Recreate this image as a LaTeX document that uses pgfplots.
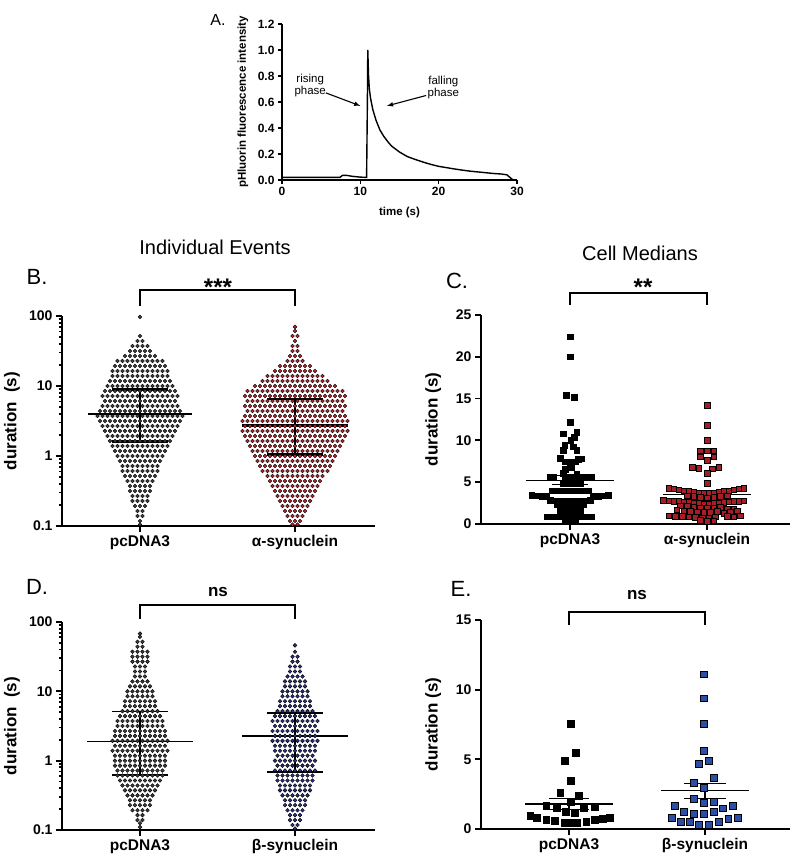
\documentclass[border=0pt]{standalone}
\usepackage{pgfplots}
\pgfplotsset{compat=1.18}
\usepackage{pgfplotstable}
\usepackage{fontspec}
\setmainfont{Liberation Sans}
\pgfplotsset{/pgf/number format/assume math mode=true}
\definecolor{bgray}{HTML}{3C3C3C}
\definecolor{bred}{HTML}{B5232B}
\definecolor{cred}{HTML}{A51D25}
\definecolor{dnavy}{HTML}{2C307E}
\definecolor{eblue}{HTML}{2D4EA6}

% ---------- Panel B, pcDNA3 (d = half-spacing offset) ----------
\pgfplotstableread[row sep=\\]{
d y\\
0 0.105\\
0 0.118\\
-1 0.139\\1 0.139\\
-1 0.164\\1 0.164\\
-2 0.193\\0 0.193\\2 0.193\\
-3 0.228\\-1 0.228\\1 0.228\\3 0.228\\
-3 0.268\\-1 0.268\\1 0.268\\3 0.268\\
-4 0.316\\-2 0.316\\0 0.316\\2 0.316\\4 0.316\\
-4 0.373\\-2 0.373\\0 0.373\\2 0.373\\4 0.373\\
-5 0.439\\-3 0.439\\-1 0.439\\1 0.439\\3 0.439\\5 0.439\\
-6 0.518\\-4 0.518\\-2 0.518\\0 0.518\\2 0.518\\4 0.518\\6 0.518\\
-7 0.611\\-5 0.611\\-3 0.611\\-1 0.611\\1 0.611\\3 0.611\\5 0.611\\7 0.611\\
-7 0.72\\-5 0.72\\-3 0.72\\-1 0.72\\1 0.72\\3 0.72\\5 0.72\\7 0.72\\
-8 0.848\\-6 0.848\\-4 0.848\\-2 0.848\\0 0.848\\2 0.848\\4 0.848\\6 0.848\\8 0.848\\
-9 1\\-7 1\\-5 1\\-3 1\\-1 1\\1 1\\3 1\\5 1\\7 1\\9 1\\
-10 1.18\\-8 1.18\\-6 1.18\\-4 1.18\\-2 1.18\\0 1.18\\2 1.18\\4 1.18\\6 1.18\\8 1.18\\10 1.18\\
-11 1.39\\-9 1.39\\-7 1.39\\-5 1.39\\-3 1.39\\-1 1.39\\1 1.39\\3 1.39\\5 1.39\\7 1.39\\9 1.39\\11 1.39\\
-12 1.64\\-10 1.64\\-8 1.64\\-6 1.64\\-4 1.64\\-2 1.64\\0 1.64\\2 1.64\\4 1.64\\6 1.64\\8 1.64\\10 1.64\\12 1.64\\
-13 1.93\\-11 1.93\\-9 1.93\\-7 1.93\\-5 1.93\\-3 1.93\\-1 1.93\\1 1.93\\3 1.93\\5 1.93\\7 1.93\\9 1.93\\11 1.93\\13 1.93\\
-14 2.28\\-12 2.28\\-10 2.28\\-8 2.28\\-6 2.28\\-4 2.28\\-2 2.28\\0 2.28\\2 2.28\\4 2.28\\6 2.28\\8 2.28\\10 2.28\\12 2.28\\14 2.28\\
-15 2.68\\-13 2.68\\-11 2.68\\-9 2.68\\-7 2.68\\-5 2.68\\-3 2.68\\-1 2.68\\1 2.68\\3 2.68\\5 2.68\\7 2.68\\9 2.68\\11 2.68\\13 2.68\\15 2.68\\
-16 3.16\\-14 3.16\\-12 3.16\\-10 3.16\\-8 3.16\\-6 3.16\\-4 3.16\\-2 3.16\\0 3.16\\2 3.16\\4 3.16\\6 3.16\\8 3.16\\10 3.16\\12 3.16\\14 3.16\\16 3.16\\
-17 3.73\\-15 3.73\\-13 3.73\\-11 3.73\\-9 3.73\\-7 3.73\\-5 3.73\\-3 3.73\\-1 3.73\\1 3.73\\3 3.73\\5 3.73\\7 3.73\\9 3.73\\11 3.73\\13 3.73\\15 3.73\\17 3.73\\
-16 4.39\\-14 4.39\\-12 4.39\\-10 4.39\\-8 4.39\\-6 4.39\\-4 4.39\\-2 4.39\\0 4.39\\2 4.39\\4 4.39\\6 4.39\\8 4.39\\10 4.39\\12 4.39\\14 4.39\\16 4.39\\
-15 5.18\\-13 5.18\\-11 5.18\\-9 5.18\\-7 5.18\\-5 5.18\\-3 5.18\\-1 5.18\\1 5.18\\3 5.18\\5 5.18\\7 5.18\\9 5.18\\11 5.18\\13 5.18\\15 5.18\\
-14 6.11\\-12 6.11\\-10 6.11\\-8 6.11\\-6 6.11\\-4 6.11\\-2 6.11\\0 6.11\\2 6.11\\4 6.11\\6 6.11\\8 6.11\\10 6.11\\12 6.11\\14 6.11\\
-15 7.2\\-13 7.2\\-11 7.2\\-9 7.2\\-7 7.2\\-5 7.2\\-3 7.2\\-1 7.2\\1 7.2\\3 7.2\\5 7.2\\7 7.2\\9 7.2\\11 7.2\\13 7.2\\15 7.2\\
-14 8.48\\-12 8.48\\-10 8.48\\-8 8.48\\-6 8.48\\-4 8.48\\-2 8.48\\0 8.48\\2 8.48\\4 8.48\\6 8.48\\8 8.48\\10 8.48\\12 8.48\\14 8.48\\
-13 10\\-11 10\\-9 10\\-7 10\\-5 10\\-3 10\\-1 10\\1 10\\3 10\\5 10\\7 10\\9 10\\11 10\\13 10\\
-12 11.8\\-10 11.8\\-8 11.8\\-6 11.8\\-4 11.8\\-2 11.8\\0 11.8\\2 11.8\\4 11.8\\6 11.8\\8 11.8\\10 11.8\\12 11.8\\
-11 13.9\\-9 13.9\\-7 13.9\\-5 13.9\\-3 13.9\\-1 13.9\\1 13.9\\3 13.9\\5 13.9\\7 13.9\\9 13.9\\11 13.9\\
-11 16.4\\-9 16.4\\-7 16.4\\-5 16.4\\-3 16.4\\-1 16.4\\1 16.4\\3 16.4\\5 16.4\\7 16.4\\9 16.4\\11 16.4\\
-10 19.3\\-8 19.3\\-6 19.3\\-4 19.3\\-2 19.3\\0 19.3\\2 19.3\\4 19.3\\6 19.3\\8 19.3\\10 19.3\\
-9 22.8\\-7 22.8\\-5 22.8\\-3 22.8\\-1 22.8\\1 22.8\\3 22.8\\5 22.8\\7 22.8\\9 22.8\\
-6 26.8\\-4 26.8\\-2 26.8\\0 26.8\\2 26.8\\4 26.8\\6 26.8\\
-4 31.6\\-2 31.6\\0 31.6\\2 31.6\\4 31.6\\
-3 37.3\\-1 37.3\\1 37.3\\3 37.3\\
-1 43.9\\1 43.9\\
0 51.8\\
0 97\\
}\Bpc

% ---------- Panel B, alpha-synuclein ----------
\pgfplotstableread[row sep=\\]{
d y\\
-1 0.105\\1 0.105\\
-2 0.118\\0 0.118\\2 0.118\\
-3 0.139\\-1 0.139\\1 0.139\\3 0.139\\
-4 0.164\\-2 0.164\\0 0.164\\2 0.164\\4 0.164\\
-5 0.193\\-3 0.193\\-1 0.193\\1 0.193\\3 0.193\\5 0.193\\
-6 0.228\\-4 0.228\\-2 0.228\\0 0.228\\2 0.228\\4 0.228\\6 0.228\\
-7 0.268\\-5 0.268\\-3 0.268\\-1 0.268\\1 0.268\\3 0.268\\5 0.268\\7 0.268\\
-8 0.316\\-6 0.316\\-4 0.316\\-2 0.316\\0 0.316\\2 0.316\\4 0.316\\6 0.316\\8 0.316\\
-9 0.373\\-7 0.373\\-5 0.373\\-3 0.373\\-1 0.373\\1 0.373\\3 0.373\\5 0.373\\7 0.373\\9 0.373\\
-10 0.439\\-8 0.439\\-6 0.439\\-4 0.439\\-2 0.439\\0 0.439\\2 0.439\\4 0.439\\6 0.439\\8 0.439\\10 0.439\\
-11 0.518\\-9 0.518\\-7 0.518\\-5 0.518\\-3 0.518\\-1 0.518\\1 0.518\\3 0.518\\5 0.518\\7 0.518\\9 0.518\\11 0.518\\
-13 0.611\\-11 0.611\\-9 0.611\\-7 0.611\\-5 0.611\\-3 0.611\\-1 0.611\\1 0.611\\3 0.611\\5 0.611\\7 0.611\\9 0.611\\11 0.611\\13 0.611\\
-14 0.72\\-12 0.72\\-10 0.72\\-8 0.72\\-6 0.72\\-4 0.72\\-2 0.72\\0 0.72\\2 0.72\\4 0.72\\6 0.72\\8 0.72\\10 0.72\\12 0.72\\14 0.72\\
-15 0.848\\-13 0.848\\-11 0.848\\-9 0.848\\-7 0.848\\-5 0.848\\-3 0.848\\-1 0.848\\1 0.848\\3 0.848\\5 0.848\\7 0.848\\9 0.848\\11 0.848\\13 0.848\\15 0.848\\
-16 1\\-14 1\\-12 1\\-10 1\\-8 1\\-6 1\\-4 1\\-2 1\\0 1\\2 1\\4 1\\6 1\\8 1\\10 1\\12 1\\14 1\\16 1\\
-17 1.18\\-15 1.18\\-13 1.18\\-11 1.18\\-9 1.18\\-7 1.18\\-5 1.18\\-3 1.18\\-1 1.18\\1 1.18\\3 1.18\\5 1.18\\7 1.18\\9 1.18\\11 1.18\\13 1.18\\15 1.18\\17 1.18\\
-18 1.39\\-16 1.39\\-14 1.39\\-12 1.39\\-10 1.39\\-8 1.39\\-6 1.39\\-4 1.39\\-2 1.39\\0 1.39\\2 1.39\\4 1.39\\6 1.39\\8 1.39\\10 1.39\\12 1.39\\14 1.39\\16 1.39\\18 1.39\\
-19 1.64\\-17 1.64\\-15 1.64\\-13 1.64\\-11 1.64\\-9 1.64\\-7 1.64\\-5 1.64\\-3 1.64\\-1 1.64\\1 1.64\\3 1.64\\5 1.64\\7 1.64\\9 1.64\\11 1.64\\13 1.64\\15 1.64\\17 1.64\\19 1.64\\
-20 1.93\\-18 1.93\\-16 1.93\\-14 1.93\\-12 1.93\\-10 1.93\\-8 1.93\\-6 1.93\\-4 1.93\\-2 1.93\\0 1.93\\2 1.93\\4 1.93\\6 1.93\\8 1.93\\10 1.93\\12 1.93\\14 1.93\\16 1.93\\18 1.93\\20 1.93\\
-21 2.28\\-19 2.28\\-17 2.28\\-15 2.28\\-13 2.28\\-11 2.28\\-9 2.28\\-7 2.28\\-5 2.28\\-3 2.28\\-1 2.28\\1 2.28\\3 2.28\\5 2.28\\7 2.28\\9 2.28\\11 2.28\\13 2.28\\15 2.28\\17 2.28\\19 2.28\\21 2.28\\
-20 2.68\\-18 2.68\\-16 2.68\\-14 2.68\\-12 2.68\\-10 2.68\\-8 2.68\\-6 2.68\\-4 2.68\\-2 2.68\\0 2.68\\2 2.68\\4 2.68\\6 2.68\\8 2.68\\10 2.68\\12 2.68\\14 2.68\\16 2.68\\18 2.68\\20 2.68\\
-21 3.16\\-19 3.16\\-17 3.16\\-15 3.16\\-13 3.16\\-11 3.16\\-9 3.16\\-7 3.16\\-5 3.16\\-3 3.16\\-1 3.16\\1 3.16\\3 3.16\\5 3.16\\7 3.16\\9 3.16\\11 3.16\\13 3.16\\15 3.16\\17 3.16\\19 3.16\\21 3.16\\
-20 3.73\\-18 3.73\\-16 3.73\\-14 3.73\\-12 3.73\\-10 3.73\\-8 3.73\\-6 3.73\\-4 3.73\\-2 3.73\\0 3.73\\2 3.73\\4 3.73\\6 3.73\\8 3.73\\10 3.73\\12 3.73\\14 3.73\\16 3.73\\18 3.73\\20 3.73\\
-19 4.39\\-17 4.39\\-15 4.39\\-13 4.39\\-11 4.39\\-9 4.39\\-7 4.39\\-5 4.39\\-3 4.39\\-1 4.39\\1 4.39\\3 4.39\\5 4.39\\7 4.39\\9 4.39\\11 4.39\\13 4.39\\15 4.39\\17 4.39\\19 4.39\\
-20 5.18\\-18 5.18\\-16 5.18\\-14 5.18\\-12 5.18\\-10 5.18\\-8 5.18\\-6 5.18\\-4 5.18\\-2 5.18\\0 5.18\\2 5.18\\4 5.18\\6 5.18\\8 5.18\\10 5.18\\12 5.18\\14 5.18\\16 5.18\\18 5.18\\20 5.18\\
-19 6.11\\-17 6.11\\-15 6.11\\-13 6.11\\-11 6.11\\-9 6.11\\-7 6.11\\-5 6.11\\-3 6.11\\-1 6.11\\1 6.11\\3 6.11\\5 6.11\\7 6.11\\9 6.11\\11 6.11\\13 6.11\\15 6.11\\17 6.11\\19 6.11\\
-20 7.2\\-18 7.2\\-16 7.2\\-14 7.2\\-12 7.2\\-10 7.2\\-8 7.2\\-6 7.2\\-4 7.2\\-2 7.2\\0 7.2\\2 7.2\\4 7.2\\6 7.2\\8 7.2\\10 7.2\\12 7.2\\14 7.2\\16 7.2\\18 7.2\\20 7.2\\
-19 8.48\\-17 8.48\\-15 8.48\\-13 8.48\\-11 8.48\\-9 8.48\\-7 8.48\\-5 8.48\\-3 8.48\\-1 8.48\\1 8.48\\3 8.48\\5 8.48\\7 8.48\\9 8.48\\11 8.48\\13 8.48\\15 8.48\\17 8.48\\19 8.48\\
-16 10\\-14 10\\-12 10\\-10 10\\-8 10\\-6 10\\-4 10\\-2 10\\0 10\\2 10\\4 10\\6 10\\8 10\\10 10\\12 10\\14 10\\16 10\\
-13 11.8\\-11 11.8\\-9 11.8\\-7 11.8\\-5 11.8\\-3 11.8\\-1 11.8\\1 11.8\\3 11.8\\5 11.8\\7 11.8\\9 11.8\\11 11.8\\13 11.8\\
-11 13.9\\-9 13.9\\-7 13.9\\-5 13.9\\-3 13.9\\-1 13.9\\1 13.9\\3 13.9\\5 13.9\\7 13.9\\9 13.9\\11 13.9\\
-8 16.4\\-6 16.4\\-4 16.4\\-2 16.4\\0 16.4\\2 16.4\\4 16.4\\6 16.4\\8 16.4\\
-6 19.3\\-4 19.3\\-2 19.3\\0 19.3\\2 19.3\\4 19.3\\6 19.3\\
-3 22.8\\-1 22.8\\1 22.8\\3 22.8\\
-2 26.8\\0 26.8\\2 26.8\\
-1 31.6\\1 31.6\\
-1 37.3\\1 37.3\\
0 43.9\\
-1 51.8\\1 51.8\\
0 61.1\\
0 70\\
}\Bas

% ---------- Panel D, pcDNA3 ----------
\pgfplotstableread[row sep=\\]{
d y\\
0 0.11\\
0 0.125\\
-1 0.139\\1 0.139\\
-1 0.164\\1 0.164\\
-3 0.193\\-1 0.193\\1 0.193\\3 0.193\\
-4 0.228\\-2 0.228\\0 0.228\\2 0.228\\4 0.228\\
-4 0.268\\-2 0.268\\0 0.268\\2 0.268\\4 0.268\\
-5 0.316\\-3 0.316\\-1 0.316\\1 0.316\\3 0.316\\5 0.316\\
-6 0.373\\-4 0.373\\-2 0.373\\0 0.373\\2 0.373\\4 0.373\\6 0.373\\
-7 0.439\\-5 0.439\\-3 0.439\\-1 0.439\\1 0.439\\3 0.439\\5 0.439\\7 0.439\\
-8 0.518\\-6 0.518\\-4 0.518\\-2 0.518\\0 0.518\\2 0.518\\4 0.518\\6 0.518\\8 0.518\\
-9 0.611\\-7 0.611\\-5 0.611\\-3 0.611\\-1 0.611\\1 0.611\\3 0.611\\5 0.611\\7 0.611\\9 0.611\\
-9 0.72\\-7 0.72\\-5 0.72\\-3 0.72\\-1 0.72\\1 0.72\\3 0.72\\5 0.72\\7 0.72\\9 0.72\\
-10 0.848\\-8 0.848\\-6 0.848\\-4 0.848\\-2 0.848\\0 0.848\\2 0.848\\4 0.848\\6 0.848\\8 0.848\\10 0.848\\
-10 1\\-8 1\\-6 1\\-4 1\\-2 1\\0 1\\2 1\\4 1\\6 1\\8 1\\10 1\\
-10 1.18\\-8 1.18\\-6 1.18\\-4 1.18\\-2 1.18\\0 1.18\\2 1.18\\4 1.18\\6 1.18\\8 1.18\\10 1.18\\
-11 1.39\\-9 1.39\\-7 1.39\\-5 1.39\\-3 1.39\\-1 1.39\\1 1.39\\3 1.39\\5 1.39\\7 1.39\\9 1.39\\11 1.39\\
-10 1.64\\-8 1.64\\-6 1.64\\-4 1.64\\-2 1.64\\0 1.64\\2 1.64\\4 1.64\\6 1.64\\8 1.64\\10 1.64\\
-11 1.93\\-9 1.93\\-7 1.93\\-5 1.93\\-3 1.93\\-1 1.93\\1 1.93\\3 1.93\\5 1.93\\7 1.93\\9 1.93\\11 1.93\\
-10 2.28\\-8 2.28\\-6 2.28\\-4 2.28\\-2 2.28\\0 2.28\\2 2.28\\4 2.28\\6 2.28\\8 2.28\\10 2.28\\
-10 2.68\\-8 2.68\\-6 2.68\\-4 2.68\\-2 2.68\\0 2.68\\2 2.68\\4 2.68\\6 2.68\\8 2.68\\10 2.68\\
-9 3.16\\-7 3.16\\-5 3.16\\-3 3.16\\-1 3.16\\1 3.16\\3 3.16\\5 3.16\\7 3.16\\9 3.16\\
-9 3.73\\-7 3.73\\-5 3.73\\-3 3.73\\-1 3.73\\1 3.73\\3 3.73\\5 3.73\\7 3.73\\9 3.73\\
-8 4.39\\-6 4.39\\-4 4.39\\-2 4.39\\0 4.39\\2 4.39\\4 4.39\\6 4.39\\8 4.39\\
-7 5.18\\-5 5.18\\-3 5.18\\-1 5.18\\1 5.18\\3 5.18\\5 5.18\\7 5.18\\
-6 6.11\\-4 6.11\\-2 6.11\\0 6.11\\2 6.11\\4 6.11\\6 6.11\\
-6 7.2\\-4 7.2\\-2 7.2\\0 7.2\\2 7.2\\4 7.2\\6 7.2\\
-5 8.48\\-3 8.48\\-1 8.48\\1 8.48\\3 8.48\\5 8.48\\
-5 10\\-3 10\\-1 10\\1 10\\3 10\\5 10\\
-4 11.8\\-2 11.8\\0 11.8\\2 11.8\\4 11.8\\
-3 13.9\\-1 13.9\\1 13.9\\3 13.9\\
-2 16.4\\0 16.4\\2 16.4\\
-2 19.3\\0 19.3\\2 19.3\\
-2 22.8\\0 22.8\\2 22.8\\
-3 26.8\\-1 26.8\\1 26.8\\3 26.8\\
-3 31.6\\-1 31.6\\1 31.6\\3 31.6\\
-3 37.3\\-1 37.3\\1 37.3\\3 37.3\\
-1 43.9\\1 43.9\\
-1 51.8\\1 51.8\\
0 61.1\\
0 68\\
}\Dpc

% ---------- Panel D, beta-synuclein ----------
\pgfplotstableread[row sep=\\]{
d y\\
0 0.105\\
-1 0.118\\1 0.118\\
-2 0.139\\0 0.139\\2 0.139\\
-2 0.164\\0 0.164\\2 0.164\\
-3 0.193\\-1 0.193\\1 0.193\\3 0.193\\
-4 0.228\\-2 0.228\\0 0.228\\2 0.228\\4 0.228\\
-4 0.268\\-2 0.268\\0 0.268\\2 0.268\\4 0.268\\
-5 0.316\\-3 0.316\\-1 0.316\\1 0.316\\3 0.316\\5 0.316\\
-6 0.373\\-4 0.373\\-2 0.373\\0 0.373\\2 0.373\\4 0.373\\6 0.373\\
-6 0.439\\-4 0.439\\-2 0.439\\0 0.439\\2 0.439\\4 0.439\\6 0.439\\
-7 0.518\\-5 0.518\\-3 0.518\\-1 0.518\\1 0.518\\3 0.518\\5 0.518\\7 0.518\\
-7 0.611\\-5 0.611\\-3 0.611\\-1 0.611\\1 0.611\\3 0.611\\5 0.611\\7 0.611\\
-8 0.72\\-6 0.72\\-4 0.72\\-2 0.72\\0 0.72\\2 0.72\\4 0.72\\6 0.72\\8 0.72\\
-7 0.848\\-5 0.848\\-3 0.848\\-1 0.848\\1 0.848\\3 0.848\\5 0.848\\7 0.848\\
-8 1\\-6 1\\-4 1\\-2 1\\0 1\\2 1\\4 1\\6 1\\8 1\\
-7 1.18\\-5 1.18\\-3 1.18\\-1 1.18\\1 1.18\\3 1.18\\5 1.18\\7 1.18\\
-8 1.39\\-6 1.39\\-4 1.39\\-2 1.39\\0 1.39\\2 1.39\\4 1.39\\6 1.39\\8 1.39\\
-8 1.64\\-6 1.64\\-4 1.64\\-2 1.64\\0 1.64\\2 1.64\\4 1.64\\6 1.64\\8 1.64\\
-9 1.93\\-7 1.93\\-5 1.93\\-3 1.93\\-1 1.93\\1 1.93\\3 1.93\\5 1.93\\7 1.93\\9 1.93\\
-8 2.28\\-6 2.28\\-4 2.28\\-2 2.28\\0 2.28\\2 2.28\\4 2.28\\6 2.28\\8 2.28\\
-9 2.68\\-7 2.68\\-5 2.68\\-3 2.68\\-1 2.68\\1 2.68\\3 2.68\\5 2.68\\7 2.68\\9 2.68\\
-8 3.16\\-6 3.16\\-4 3.16\\-2 3.16\\0 3.16\\2 3.16\\4 3.16\\6 3.16\\8 3.16\\
-9 3.73\\-7 3.73\\-5 3.73\\-3 3.73\\-1 3.73\\1 3.73\\3 3.73\\5 3.73\\7 3.73\\9 3.73\\
-8 4.39\\-6 4.39\\-4 4.39\\-2 4.39\\0 4.39\\2 4.39\\4 4.39\\6 4.39\\8 4.39\\
-7 5.18\\-5 5.18\\-3 5.18\\-1 5.18\\1 5.18\\3 5.18\\5 5.18\\7 5.18\\
-6 6.11\\-4 6.11\\-2 6.11\\0 6.11\\2 6.11\\4 6.11\\6 6.11\\
-6 7.2\\-4 7.2\\-2 7.2\\0 7.2\\2 7.2\\4 7.2\\6 7.2\\
-5 8.48\\-3 8.48\\-1 8.48\\1 8.48\\3 8.48\\5 8.48\\
-5 10\\-3 10\\-1 10\\1 10\\3 10\\5 10\\
-4 11.8\\-2 11.8\\0 11.8\\2 11.8\\4 11.8\\
-4 13.9\\-2 13.9\\0 13.9\\2 13.9\\4 13.9\\
-3 16.4\\-1 16.4\\1 16.4\\3 16.4\\
-2 19.3\\0 19.3\\2 19.3\\
-2 22.8\\0 22.8\\2 22.8\\
-1 26.8\\1 26.8\\
-1 31.6\\1 31.6\\
0 37.3\\
0 46\\
}\Dbs

% ---------- Panel C ----------
\pgfplotstableread[row sep=\\]{
d y\\
0 22.4\\0 20.0\\-0.03 15.4\\0.03 15.2\\0 12.2\\
-0.05 10.8\\0.05 11.0\\0.03 10.4\\0.005 10.0\\
-0.04 9.45\\0.025 9.25\\-0.05 8.85\\0.05 8.85\\
-0.07 7.85\\0.06 7.73\\0.085 7.8\\-0.037 7.45\\0 7.4\\0.037 7.45\\
-0.037 6.54\\0.012 6.78\\-0.049 6.06\\0.049 5.98\\
-0.146 5.6\\-0.122 5.6\\-0.037 5.66\\0.012 5.66\\0.061 5.66\\0.085 5.6\\0.122 5.6\\0.158 5.6\\
-0.049 4.86\\-0.012 4.86\\0.037 4.86\\0.073 4.8\\
-0.134 4.0\\-0.09 4.0\\-0.045 4.0\\0 4.0\\0.045 4.0\\0.09 4.0\\0.134 4.0\\
-0.28 3.47\\-0.244 3.4\\-0.207 3.35\\-0.17 3.3\\0.171 3.3\\0.207 3.35\\0.244 3.4\\0.28 3.47\\
-0.146 2.85\\-0.11 2.8\\-0.073 2.8\\-0.037 2.8\\0 2.8\\0.037 2.8\\0.073 2.8\\0.11 2.8\\0.146 2.85\\
-0.098 2.3\\-0.049 2.27\\0 2.27\\0.049 2.27\\0.098 2.3\\
-0.073 1.67\\-0.024 1.65\\0.024 1.65\\0.073 1.67\\
-0.049 1.1\\0 1.08\\0.049 1.1\\
-0.171 0.87\\-0.134 0.87\\-0.098 0.87\\-0.061 0.87\\-0.024 0.8\\0.012 0.8\\0.049 0.87\\0.085 0.87\\0.122 0.87\\0.159 0.87\\
-0.037 0.35\\0 0.3\\0.037 0.35\\
}\Cpc

\pgfplotstableread[row sep=\\]{
d y\\
0 14.2\\0 11.8\\0 10.0\\
-0.049 8.77\\0 8.77\\0.049 8.77\\-0.049 8.05\\0.049 8.05\\0 7.65\\
-0.11 6.8\\-0.061 6.7\\0.037 6.6\\0.085 6.8\\0 6.06\\0 4.86\\
-0.28 4.27\\-0.244 4.2\\-0.207 4.1\\-0.171 4.0\\-0.134 3.9\\-0.098 3.8\\-0.061 3.72\\-0.024 3.65\\0.012 3.65\\0.049 3.72\\0.085 3.8\\0.122 3.9\\0.159 4.0\\0.195 4.1\\0.232 4.2\\0.268 4.27\\
-0.146 3.4\\-0.098 3.3\\-0.049 3.2\\0 3.15\\0.049 3.2\\0.098 3.3\\0.146 3.4\\
-0.32 2.85\\-0.28 2.8\\-0.244 2.75\\-0.207 2.7\\-0.171 2.65\\-0.134 2.6\\-0.098 2.55\\-0.061 2.5\\-0.024 2.45\\0.012 2.45\\0.049 2.5\\0.085 2.55\\0.122 2.6\\0.159 2.65\\0.195 2.7\\0.232 2.75\\0.268 2.8\\
-0.195 2.2\\-0.146 2.1\\-0.098 2.0\\-0.049 1.95\\0 1.9\\0.049 1.95\\0.098 2.0\\0.146 1.85\\0.195 1.8\\
-0.22 1.7\\-0.171 1.6\\-0.122 1.5\\-0.073 1.45\\-0.024 1.4\\0.024 1.4\\0.073 1.5\\0.122 1.3\\0.171 1.45\\0.22 1.6\\
-0.28 1.0\\-0.232 0.95\\-0.183 0.9\\-0.134 0.85\\-0.085 0.8\\-0.037 0.75\\0.012 0.75\\0.061 0.85\\0.146 0.9\\0.195 0.85\\0.244 1.0\\
-0.049 0.45\\0 0.3\\0.049 0.4\\
}\Cas

% ---------- Panel E ----------
\pgfplotstableread[row sep=\\]{
d y\\
0.01 7.55\\0.047 5.49\\-0.032 4.92\\0.01 3.49\\-0.064 2.58\\0.071 2.39\\0.01 1.94\\
-0.167 1.67\\-0.093 1.5\\-0.027 1.22\\0.042 1.15\\0.108 1.5\\0.189 1.58\\
-0.285 0.96\\-0.235 0.79\\-0.167 0.67\\-0.105 0.6\\-0.032 0.48\\0.005 0.43\\0.054 0.48\\0.127 0.53\\0.189 0.67\\0.245 0.76\\0.3 0.79\\
}\Epc

\pgfplotstableread[row sep=\\]{
d y\\
-0.007 11.11\\-0.007 9.39\\-0.007 7.53\\-0.007 5.64\\-0.044 4.66\\0.029 4.92\\-0.081 3.3\\0.061 3.66\\-0.007 2.99\\
-0.081 2.15\\-0.007 1.86\\0.061 1.94\\
-0.22 1.67\\-0.154 1.24\\-0.081 1.1\\-0.007 1.1\\0.061 1.22\\0.13 1.5\\0.201 1.67\\
-0.245 0.79\\-0.179 0.5\\-0.11 0.5\\-0.044 0.31\\0.029 0.31\\0.098 0.5\\0.171 0.72\\0.238 0.79\\
}\Ebs

\pgfplotsset{
  gpaxis/.style={anchor=south west, scale only axis, clip=false,
    axis x line*=bottom, axis y line*=left,
    axis line style={-, line width=2pt},
    tick style={black, line width=1.8pt},
    tick align=outside, major tick length=6pt, minor tick length=3.5pt,
    xtick={1,2},
    ticklabel style={font=\bfseries\fontsize{14}{14}\selectfont},
    xticklabel style={font=\bfseries\fontsize{15.5}{16}\selectfont},
    ylabel style={font=\bfseries\fontsize{17}{17}\selectfont, at={(axis description cs:-0.16,0.5)}, anchor=center},
  },
  mydots/.style={only marks, mark=*, mark size=1.9pt, mark options={draw=none, fill=#1}},
  mysq/.style={only marks, mark=square*, mark size=#1},
}

\begin{document}
\begin{tikzpicture}
\path[use as bounding box] (0pt,0pt) rectangle (800pt,861pt);

% ================= Panel A =================
\begin{axis}[at={(282pt,681pt)}, anchor=south west, scale only axis, clip=false,
  width=235pt, height=156pt, xmin=0, xmax=30, ymin=0, ymax=1.2,
  axis x line*=bottom, axis y line*=left, axis line style={-, line width=1.6pt},
  tick style={black, line width=1.3pt}, tick align=outside, major tick length=4pt,
  xtick={0,10,20,30}, ytick={0,0.2,0.4,0.6,0.8,1,1.2},
  yticklabel style={/pgf/number format/fixed, /pgf/number format/fixed zerofill, /pgf/number format/precision=1},
  ticklabel style={font=\bfseries\fontsize{12}{12}\selectfont},
  xlabel={time (s)}, ylabel={pHluorin fluorescence intensity},
  label style={font=\bfseries\fontsize{11.5}{12}\selectfont},
  xlabel style={at={(axis description cs:0.5,-0.21)}, anchor=center},
  ylabel style={at={(axis description cs:-0.166,0.5)}, anchor=center}]
\addplot[black, line width=1.4pt] coordinates {
(0,0.02)(7.4,0.02)(7.7,0.035)(8.3,0.035)(9,0.028)(10,0.022)(10.8,0.02)(10.9,0.6)(10.95,1.0)(11.05,0.8)(11.15,0.7)(11.3,0.63)(11.6,0.54)(12,0.46)(12.5,0.385)(13,0.335)(13.5,0.295)(14,0.26)(15,0.215)(16,0.18)(17,0.158)(18,0.138)(19,0.12)(20,0.105)(21,0.095)(22,0.085)(23,0.076)(24,0.068)(25,0.062)(26,0.056)(27,0.05)(28,0.046)(28.7,0.04)(29.2,0.015)(29.5,0)};
\node[align=center, font=\fontsize{11.5}{12}\selectfont] at (axis cs:3.6,0.73) {rising\\phase};
\node[align=center, font=\fontsize{11.5}{12}\selectfont] at (axis cs:20.6,0.71) {falling\\phase};
\draw[-latex, line width=1.1pt] (axis cs:5.6,0.67) -- (axis cs:10.0,0.57);
\draw[-latex, line width=1.1pt] (axis cs:18.4,0.65) -- (axis cs:13.4,0.57);
\end{axis}

% ================= Panel B =================
\begin{axis}[gpaxis, at={(62pt,335pt)}, width=313pt, height=210pt,
  ymode=log, ymin=0.1, ymax=100, ytick={0.1,1,10,100}, yticklabels={0.1,1,10,100},
  minor ytick={0.2,0.3,0.4,0.5,0.6,0.7,0.8,0.9,2,3,4,5,6,7,8,9,20,30,40,50,60,70,80,90},
  xmin=0.497, xmax=2.516, xticklabels={pcDNA3,α-synuclein}, ylabel={duration\ \ (s)}]
\addplot[mydots=bgray] table[x expr=1+\thisrow{d}*0.01613, y=y] {\Bpc};
\addplot[mydots=bred] table[x expr=2+\thisrow{d}*0.01613, y=y] {\Bas};
\addplot[black, line width=2.6pt] coordinates {(0.665,4) (1.335,4)};
\addplot[black, line width=2.6pt] coordinates {(0.82,9) (1.18,9)};
\addplot[black, line width=2.6pt] coordinates {(0.82,1.6) (1.18,1.6)};
\addplot[black, line width=2.6pt] coordinates {(1,1.6) (1,9)};
\addplot[black, line width=2.6pt] coordinates {(1.658,2.75) (2.342,2.75)};
\addplot[black, line width=2.6pt] coordinates {(1.82,6.5) (2.18,6.5)};
\addplot[black, line width=2.6pt] coordinates {(1.82,1.05) (2.18,1.05)};
\addplot[black, line width=2.6pt] coordinates {(2,1.05) (2,6.5)};
\end{axis}

% ================= Panel C =================
\begin{axis}[gpaxis, at={(481pt,337pt)}, width=309pt, height=209pt,
  xmin=0.35, xmax=2.606, ymin=0, ymax=25, ytick={0,5,10,15,20,25},
  xticklabels={pcDNA3,α-synuclein}, ylabel={duration (s)},
  ylabel style={at={(axis description cs:-0.155,0.5)}}]
\addplot[mysq=2.8pt, mark options={draw=none, fill=black}] table[x expr=1+\thisrow{d}, y=y] {\Cpc};
\addplot[mysq=2.8pt, mark options={draw=none, fill=cred}] table[x expr=2+\thisrow{d}, y=y] {\Cas};
\addplot[black, line width=1.2pt] coordinates {(0.68,5.25) (1.32,5.25)};
\addplot[black, line width=1.2pt] coordinates {(0.87,5.8) (1.13,5.8)};
\addplot[black, line width=1.2pt] coordinates {(0.87,4.7) (1.13,4.7)};
\addplot[black, line width=1.2pt] coordinates {(1,4.7) (1,5.8)};
\addplot[black, line width=1.2pt] coordinates {(1.68,3.55) (2.32,3.55)};
\addplot[black, line width=1.2pt] coordinates {(1.873,3.85) (2.127,3.85)};
\addplot[black, line width=1.2pt] coordinates {(1.873,3.25) (2.127,3.25)};
\addplot[black, line width=1.2pt] coordinates {(2,3.25) (2,3.85)};
\end{axis}

% ================= Panel D =================
\begin{axis}[gpaxis, at={(62pt,31pt)}, width=313pt, height=208pt,
  ymode=log, ymin=0.1, ymax=100, ytick={0.1,1,10,100}, yticklabels={0.1,1,10,100},
  minor ytick={0.2,0.3,0.4,0.5,0.6,0.7,0.8,0.9,2,3,4,5,6,7,8,9,20,30,40,50,60,70,80,90},
  xmin=0.497, xmax=2.516, xticklabels={pcDNA3,β-synuclein}, ylabel={duration\ \ (s)}]
\addplot[mydots=bgray] table[x expr=1+\thisrow{d}*0.01613, y=y] {\Dpc};
\addplot[mydots=dnavy] table[x expr=2+\thisrow{d}*0.01613, y=y] {\Dbs};
\addplot[black, line width=1.6pt] coordinates {(0.66,1.9) (1.34,1.9)};
\addplot[black, line width=1.6pt] coordinates {(0.82,5.1) (1.18,5.1)};
\addplot[black, line width=1.6pt] coordinates {(0.82,0.62) (1.18,0.62)};
\addplot[black, line width=1.6pt] coordinates {(1,0.62) (1,5.1)};
\addplot[black, line width=1.6pt] coordinates {(1.658,2.25) (2.342,2.25)};
\addplot[black, line width=1.6pt] coordinates {(1.82,4.9) (2.18,4.9)};
\addplot[black, line width=1.6pt] coordinates {(1.82,0.68) (2.18,0.68)};
\addplot[black, line width=1.6pt] coordinates {(2,0.68) (2,4.9)};
\end{axis}

% ================= Panel E =================
\begin{axis}[gpaxis, at={(481pt,32pt)}, width=309pt, height=209pt,
  xmin=0.353, xmax=2.625, ymin=0, ymax=15, ytick={0,5,10,15},
  xticklabels={pcDNA3,β-synuclein}, ylabel={duration (s)},
  ylabel style={at={(axis description cs:-0.155,0.5)}}]
\addplot[mysq=3.4pt, mark options={draw=none, fill=black}] table[x expr=1+\thisrow{d}, y=y] {\Epc};
\addplot[mysq=3.4pt, mark options={draw=none, fill=eblue}] table[x expr=2+\thisrow{d}, y=y] {\Ebs};
\addplot[black, line width=1.2pt] coordinates {(0.68,1.8) (1.32,1.8)};
\addplot[black, line width=1.2pt] coordinates {(0.855,2.2) (1.145,2.2)};
\addplot[black, line width=1.2pt] coordinates {(0.855,1.4) (1.145,1.4)};
\addplot[black, line width=1.2pt] coordinates {(1,1.4) (1,2.2)};
\addplot[black, line width=1.2pt] coordinates {(1.68,2.75) (2.32,2.75)};
\addplot[black, line width=1.2pt] coordinates {(1.845,3.25) (2.155,3.25)};
\addplot[black, line width=1.2pt] coordinates {(1.845,2.2) (2.155,2.2)};
\addplot[black, line width=1.2pt] coordinates {(2,2.2) (2,3.25)};
\end{axis}

% ================= annotations =================
\node[font=\fontsize{16}{16}\selectfont] at (218pt,841pt) {A.};
\node[font=\fontsize{20}{20}\selectfont] at (215pt,614pt) {Individual Events};
\node[font=\fontsize{20}{20}\selectfont] at (640pt,608pt) {Cell Medians};
\node[font=\fontsize{22}{22}\selectfont] at (37pt,584pt) {B.};
\node[font=\fontsize{22}{22}\selectfont] at (457pt,580pt) {C.};
\node[font=\fontsize{22}{22}\selectfont] at (37pt,274pt) {D.};
\node[font=\fontsize{22}{22}\selectfont] at (461pt,272pt) {E.};
\node[font=\bfseries\fontsize{24}{24}\selectfont] at (218pt,574pt) {***};
\node[font=\bfseries\fontsize{24}{24}\selectfont] at (643pt,574pt) {**};
\node[font=\bfseries\fontsize{17}{17}\selectfont] at (218pt,269pt) {ns};
\node[font=\bfseries\fontsize{17}{17}\selectfont] at (637pt,266pt) {ns};
\draw[line width=2pt] (140pt,555pt) -- (140pt,571pt) -- (295pt,571pt) -- (295pt,555pt);
\draw[line width=2pt] (570pt,556pt) -- (570pt,568pt) -- (707pt,568pt) -- (707pt,556pt);
\draw[line width=2pt] (140pt,242pt) -- (140pt,256pt) -- (295pt,256pt) -- (295pt,242pt);
\draw[line width=2pt] (569pt,236pt) -- (569pt,249pt) -- (705pt,249pt) -- (705pt,236pt);
\end{tikzpicture}
\end{document}
